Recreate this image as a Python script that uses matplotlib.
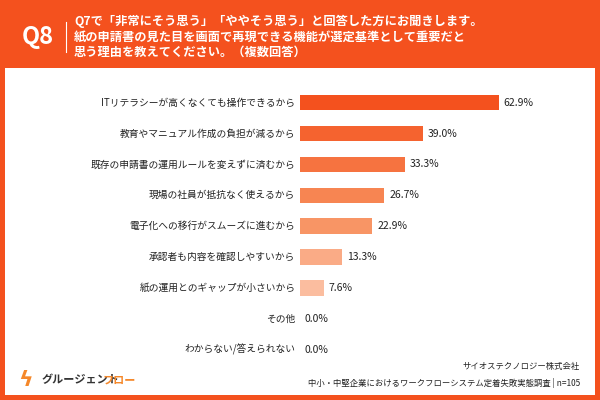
import matplotlib.pyplot as plt
from matplotlib.patches import Rectangle

plt.rcParams['font.family'] = ['Noto Sans CJK JP', 'DejaVu Sans']

labels = ["ITリテラシーが高くなくても操作できるから", "教育やマニュアル作成の負担が減るから",
          "既存の申請書の運用ルールを変えずに済むから", "現場の社員が抵抗なく使えるから",
          "電子化への移行がスムーズに進むから", "承認者も内容を確認しやすいから",
          "紙の運用とのギャップが小さいから", "その他", "わからない/答えられない"]
values = [62.9, 39.0, 33.3, 26.7, 22.9, 13.3, 7.6, 0.0, 0.0]
colors = ["#f4511e", "#f5632f", "#f67340", "#f78552", "#f89565", "#faab86", "#fbbd9f", "#fcd0bb", "#fde0d2"]

ORANGE = "#f4511e"
fig = plt.figure(figsize=(6, 4), dpi=100)
fig.patch.set_facecolor(ORANGE)

# white panel behind everything
bg = fig.add_axes([5/600, 5/400, 590/600, 327/400], zorder=0)
bg.set_facecolor("white")
bg.set_xticks([]); bg.set_yticks([])
for s in bg.spines.values():
    s.set_visible(False)

# header
fig.text(38/600, 1 - 37/400, "Q8", color="white", fontsize=17, fontweight="bold",
         ha="center", va="center")
fig.add_artist(plt.Line2D([66/600, 66/600], [1 - 22/400, 1 - 52/400], color="white", lw=0.8))
fig.text(74/600, 1 - 37/400,
         "Q7で「非常にそう思う」「ややそう思う」と回答した方にお聞きします。\n"
         "紙の申請書の見た目を画面で再現できる機能が選定基準として重要だと\n"
         "思う理由を教えてください。（複数回答）",
         color="white", fontsize=8.8, fontweight="bold", ha="left", va="center", linespacing=1.25)

# bars
ax = fig.add_axes([300/600, 1 - 365/400, 290/600, 290/400], zorder=2)
ax.patch.set_alpha(0)
ax.set_xlim(0, 290/3.16)
ypos = list(range(len(labels)))
ax.barh(ypos, values, height=0.5, color=colors)
ax.set_ylim(len(labels) - 0.5, -0.9)
for y, v, lab in zip(ypos, values, labels):
    ax.text(v + 1.5, y, f"{v:.1f}%", va="center", ha="left", fontsize=7.5, color="#222222")
    ax.text(-1.5, y, lab, va="center", ha="right", fontsize=7, color="#222222")
ax.axis("off")

# footer
fig.text(42/600, 1 - 380/400, "グルージェント", color="#333333", fontsize=8, fontweight="bold",
         ha="left", va="center", zorder=3)
fig.text(103/600, 1 - 380/400, "フロー", color="#f5882a", fontsize=8, fontweight="bold",
         ha="left", va="center", zorder=3)
fig.text(26/600, 1 - 380/400, "ϟ", color="#f5882a", fontsize=16, fontweight="bold",
         ha="center", va="center", zorder=3)
fig.text(580/600, 1 - 367/400, "サイオステクノロジー株式会社", color="#222222", fontsize=6,
         ha="right", va="center", zorder=3)
fig.text(580/600, 1 - 383/400, "中小・中堅企業におけるワークフローシステム定着失敗実態調査 | n=105",
         color="#222222", fontsize=6, ha="right", va="center", zorder=3)

fig.savefig("out.png", dpi=100)
